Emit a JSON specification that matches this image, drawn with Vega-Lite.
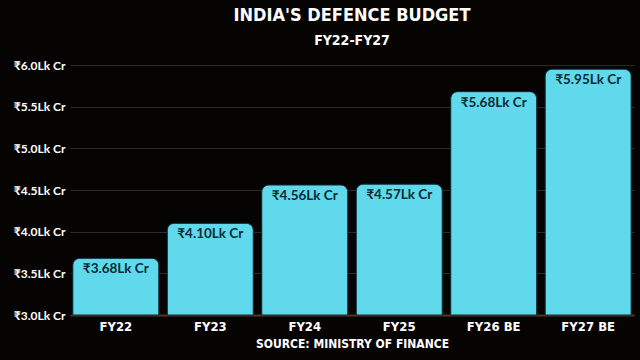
{
  "$schema": "https://vega.github.io/schema/vega-lite/v6.json",
  "width": 564,
  "height": 250,
  "autosize": {"type": "none"},
  "padding": {"left": 70, "top": 65, "right": 6, "bottom": 45},
  "background": "#060303",
  "title": {
    "text": "INDIA'S DEFENCE BUDGET",
    "subtitle": "FY22-FY27",
    "anchor": "middle",
    "font": "Liberation Sans Narrow, DejaVu Sans Condensed",
    "fontSize": 18,
    "fontWeight": "bold",
    "color": "#ffffff",
    "subtitleFont": "Liberation Sans Narrow, DejaVu Sans Condensed",
    "subtitleFontSize": 14,
    "subtitleFontWeight": "bold",
    "subtitleColor": "#ffffff",
    "subtitlePadding": 9,
    "offset": 11
  },
  "data": {
    "values": [
      {"year": "FY22", "value": 3.68, "label": "₹3.68Lk Cr"},
      {"year": "FY23", "value": 4.10, "label": "₹4.10Lk Cr"},
      {"year": "FY24", "value": 4.56, "label": "₹4.56Lk Cr"},
      {"year": "FY25", "value": 4.57, "label": "₹4.57Lk Cr"},
      {"year": "FY26 BE", "value": 5.68, "label": "₹5.68Lk Cr"},
      {"year": "FY27 BE", "value": 5.95, "label": "₹5.95Lk Cr"}
    ]
  },
  "encoding": {
    "x": {
      "field": "year",
      "type": "nominal",
      "sort": null,
      "scale": {"paddingInner": 0.09, "paddingOuter": 0.03},
      "axis": {
        "title": "SOURCE: MINISTRY OF FINANCE",
        "titleFont": "Liberation Sans Narrow, DejaVu Sans Condensed",
        "titleFontSize": 12,
        "titleFontWeight": "bold",
        "titleColor": "#ffffff",
        "titlePadding": 5,
        "labelAngle": 0,
        "labelFont": "Liberation Sans Narrow, DejaVu Sans Condensed",
        "labelFontSize": 13,
        "labelFontWeight": "bold",
        "labelColor": "#ffffff",
        "labelPadding": 5,
        "ticks": false,
        "domain": true,
        "domainColor": "#5a3418",
        "domainWidth": 2
      }
    },
    "y": {
      "field": "value",
      "type": "quantitative",
      "scale": {"domain": [3.0, 6.0], "zero": false, "nice": false},
      "axis": {
        "title": null,
        "values": [3.0, 3.5, 4.0, 4.5, 5.0, 5.5, 6.0],
        "labelExpr": "'₹' + format(datum.value, '.1f') + 'Lk Cr'",
        "labelFont": "Lato",
        "labelFontSize": 12,
        "labelFontWeight": "bold",
        "labelColor": "#ffffff",
        "labelPadding": 5,
        "ticks": false,
        "domain": false,
        "grid": true,
        "gridColor": "#2a2a2a",
        "gridWidth": 1
      }
    }
  },
  "layer": [
    {
      "mark": {
        "type": "bar",
        "color": "#5fd9eb",
        "stroke": "#0b2a33",
        "strokeWidth": 1,
        "cornerRadiusTopLeft": 7,
        "cornerRadiusTopRight": 7
      },
      "encoding": {"y2": {"datum": 3.0}}
    },
    {
      "mark": {
        "type": "text",
        "baseline": "top",
        "dy": 4,
        "font": "Lato",
        "fontSize": 13.5,
        "fontWeight": "bold",
        "color": "#0b2a33"
      },
      "encoding": {"text": {"field": "label"}}
    }
  ],
  "config": {"view": {"stroke": null}}
}
